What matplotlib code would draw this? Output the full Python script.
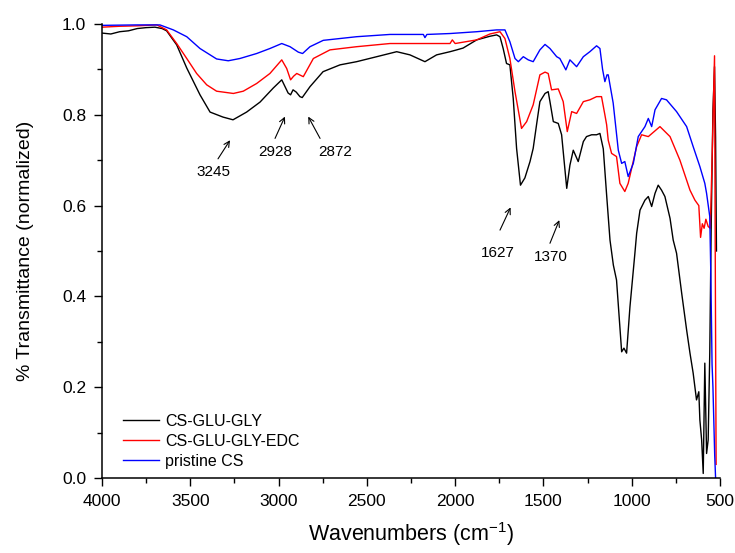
import matplotlib
matplotlib.use("Agg")
import matplotlib.pyplot as plt
import numpy as np
from matplotlib.ticker import MultipleLocator

plt.rcParams['font.family'] = ['Liberation Sans', 'DejaVu Sans']
plt.rcParams['mathtext.default'] = 'regular'

# CS-GLU-GLY (black)
w_black = [4000, 3950, 3900, 3850, 3800, 3750, 3700, 3660, 3634, 3577, 3520, 3445, 3388, 3315, 3258,
           3181, 3105, 3030, 2982, 2946, 2932, 2918, 2900, 2879, 2866, 2822, 2748, 2652, 2558, 2444,
           2331, 2256, 2171, 2105, 2029, 1991, 1955, 1878, 1803, 1765, 1746, 1728, 1709, 1690, 1671,
           1652, 1630, 1605, 1576, 1558, 1539, 1520, 1491, 1473, 1463, 1444, 1416, 1397, 1368, 1350,
           1331, 1303, 1274, 1256, 1227, 1199, 1180, 1161, 1142, 1123, 1104, 1086, 1057, 1044, 1029,
           1010, 982, 972, 953, 925, 906, 887, 868, 850, 831, 812, 783, 765, 746, 717,
           689, 670, 652, 633, 620, 614, 604, 595, 586, 576, 567, 558, 550, 540, 531,
           525, 520]
t_black = [0.980, 0.978, 0.983, 0.985, 0.990, 0.992, 0.993, 0.990, 0.985, 0.954, 0.903, 0.844, 0.806, 0.795, 0.789,
           0.806, 0.828, 0.859, 0.877, 0.848, 0.844, 0.855, 0.850, 0.840, 0.838, 0.862, 0.895, 0.910, 0.917, 0.928,
           0.939, 0.932, 0.917, 0.932, 0.939, 0.943, 0.947, 0.965, 0.973, 0.976, 0.972, 0.946, 0.913, 0.910, 0.836,
           0.726, 0.645, 0.661, 0.697, 0.726, 0.778, 0.829, 0.847, 0.851, 0.829, 0.785, 0.781, 0.756, 0.638, 0.689,
           0.722, 0.697, 0.741, 0.752, 0.756, 0.756, 0.759, 0.725, 0.623, 0.524, 0.469, 0.436, 0.278, 0.286, 0.275,
           0.377, 0.495, 0.539, 0.590, 0.612, 0.620, 0.598, 0.627, 0.645, 0.634, 0.620, 0.572, 0.524, 0.495, 0.407,
           0.326, 0.275, 0.231, 0.172, 0.190, 0.128, 0.084, 0.010, 0.253, 0.054, 0.084, 0.275, 0.550, 0.810, 0.906,
           0.750, 0.500]

# CS-GLU-GLY-EDC (red)
w_red = [4000, 3900, 3800, 3690, 3634, 3577, 3520, 3464, 3407, 3351, 3256, 3200, 3124, 3049, 2982,
         2954, 2932, 2915, 2897, 2860, 2803, 2709, 2558, 2369, 2180, 2029, 2016, 2000, 1878, 1803,
         1746, 1718, 1690, 1661, 1624, 1595, 1558, 1520, 1491, 1473, 1454, 1416, 1388, 1365, 1340,
         1312, 1274, 1237, 1199, 1171, 1152, 1142, 1133, 1114, 1086, 1067, 1039, 1020, 972, 944,
         906, 840, 783, 727, 670, 642, 620, 610, 600, 590, 580, 567, 555, 545, 531,
         527, 522]
t_red = [0.993, 0.995, 0.996, 0.998, 0.987, 0.957, 0.924, 0.891, 0.866, 0.852, 0.847, 0.852, 0.869, 0.891, 0.921,
         0.902, 0.877, 0.885, 0.891, 0.884, 0.924, 0.943, 0.950, 0.957, 0.957, 0.957, 0.965, 0.957, 0.965, 0.978,
         0.983, 0.968, 0.924, 0.851, 0.770, 0.785, 0.822, 0.888, 0.894, 0.891, 0.855, 0.857, 0.829, 0.763, 0.807,
         0.803, 0.829, 0.833, 0.840, 0.840, 0.800, 0.778, 0.744, 0.715, 0.708, 0.649, 0.631, 0.649, 0.730, 0.756,
         0.752, 0.774, 0.752, 0.700, 0.634, 0.612, 0.600, 0.530, 0.560, 0.550, 0.570, 0.554, 0.550, 0.700, 0.930,
         0.500, 0.030]

# pristine CS (blue)
w_blue = [4000, 3800, 3672, 3596, 3520, 3445, 3351, 3285, 3219, 3124, 3049, 2982, 2935, 2888, 2864,
          2822, 2747, 2558, 2369, 2180, 2171, 2160, 2029, 1878, 1765, 1718, 1690, 1661, 1642, 1614,
          1586, 1558, 1520, 1491, 1463, 1425, 1407, 1373, 1350, 1312, 1274, 1237, 1199, 1180, 1165,
          1152, 1140, 1133, 1105, 1076, 1057, 1039, 1020, 991, 963, 925, 906, 887, 868, 831,
          803, 746, 689, 652, 614, 586, 576, 558, 552, 545, 540, 530, 525]
t_blue = [0.997, 0.998, 0.998, 0.987, 0.972, 0.946, 0.923, 0.919, 0.924, 0.935, 0.946, 0.957, 0.950, 0.938, 0.935,
          0.950, 0.964, 0.972, 0.977, 0.977, 0.970, 0.977, 0.979, 0.983, 0.987, 0.987, 0.961, 0.924, 0.917, 0.928,
          0.921, 0.917, 0.943, 0.955, 0.946, 0.928, 0.924, 0.899, 0.921, 0.906, 0.928, 0.939, 0.952, 0.946, 0.900,
          0.873, 0.888, 0.888, 0.826, 0.722, 0.693, 0.697, 0.664, 0.693, 0.752, 0.774, 0.792, 0.774, 0.811, 0.836,
          0.833, 0.807, 0.774, 0.730, 0.686, 0.649, 0.627, 0.576, 0.450, 0.250, 0.200, 0.050, 0.000]

series_labels = ["CS-GLU-GLY", "CS-GLU-GLY-EDC", "pristine CS"]

# peak annotations: label, arrow head (x, y), arrow tail (x, y), text (x, y)
peak_labels = ["3245", "2928", "2872", "1627", "1370"]
peak_head = [(3275, 0.744), (2964, 0.796), (2832, 0.796), (1686, 0.596), (1410, 0.568)]
peak_tail = [(3343, 0.703), (3020, 0.748), (2765, 0.748), (1746, 0.546), (1463, 0.517)]
peak_text = [(3370, 0.675), (3020, 0.717), (2681, 0.717), (1756, 0.496), (1459, 0.486)]

fig = plt.figure(figsize=(7.35, 5.53), dpi=100)
ax = fig.add_axes([102/735, 1 - 478/553, 618/735, 454/553])

ax.plot(w_black, t_black, color='black', lw=1.0, label=series_labels[0])
ax.plot(w_red, t_red, color='#ff0000', lw=1.0, label=series_labels[1])
ax.plot(w_blue, t_blue, color='#0000ff', lw=1.0, label=series_labels[2])

ax.set_xlim(4000, 500)
ax.set_ylim(0, 1.0)
ax.xaxis.set_major_locator(MultipleLocator(500))
ax.xaxis.set_minor_locator(MultipleLocator(250))
ax.yaxis.set_major_locator(MultipleLocator(0.2))
ax.yaxis.set_minor_locator(MultipleLocator(0.1))
ax.yaxis.set_major_formatter(matplotlib.ticker.FormatStrFormatter('%.1f'))

for s in ['top', 'right']:
    ax.spines[s].set_visible(False)
for s in ['left', 'bottom']:
    ax.spines[s].set_linewidth(1.1)
ax.tick_params(which='major', direction='out', length=5.8, width=1.0, labelsize=12.5, pad=5.5)
ax.tick_params(which='minor', direction='out', length=3.6, width=1.0)

ax.set_xlabel("Wavenumbers (cm$^{-1}$)", fontsize=15.5, labelpad=8)
ax.set_ylabel("% Transmittance (normalized)", fontsize=14, labelpad=20)

for lab, hd, tl, tx in zip(peak_labels, peak_head, peak_tail, peak_text):
    ax.annotate("", xy=hd, xytext=tl,
                arrowprops=dict(arrowstyle='->', lw=0.8, color='black', mutation_scale=10,
                                shrinkA=0, shrinkB=0))
    ax.text(tx[0], tx[1], lab, fontsize=11, ha='center', va='center')

leg = ax.legend(loc='upper left', bbox_to_anchor=(0.0335, 0.141), frameon=False,
                fontsize=11.5, borderpad=0, borderaxespad=0, handlelength=2.3,
                handletextpad=0.35, labelspacing=0.3)

fig.savefig("out.png", dpi=100)
